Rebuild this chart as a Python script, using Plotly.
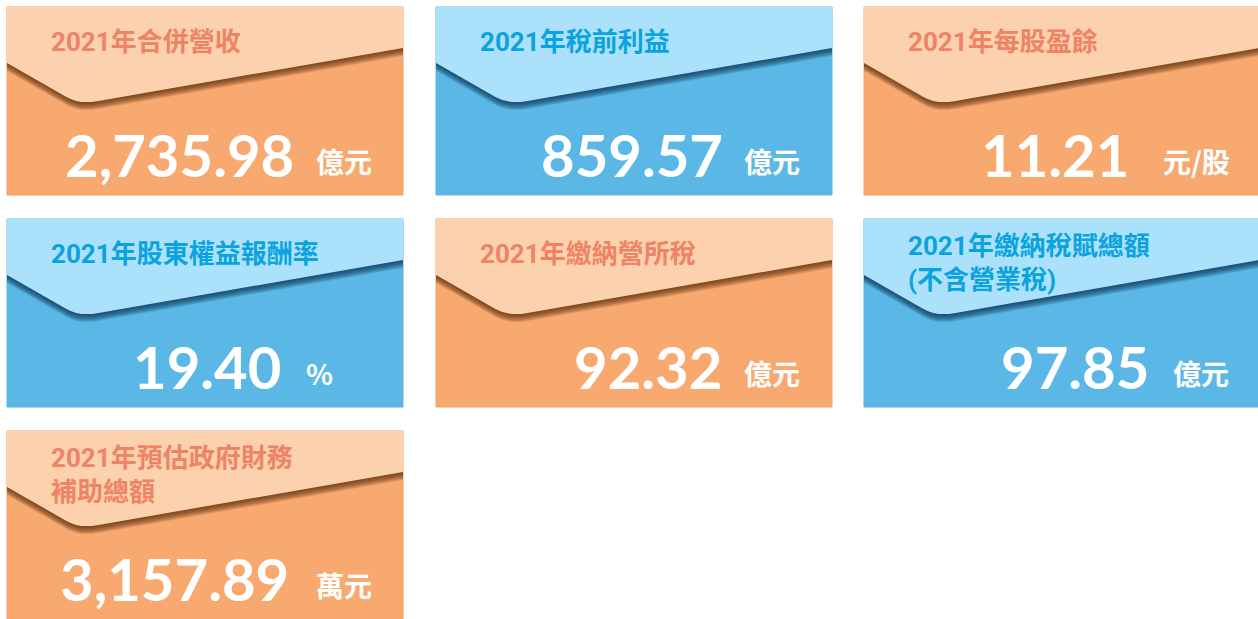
import plotly.graph_objects as go

# ---- data ----
titles = [
    "2021年合併營收",
    "2021年稅前利益",
    "2021年每股盈餘",
    "2021年股東權益報酬率",
    "2021年繳納營所稅",
    "2021年繳納稅賦總額<br>(不含營業稅)",
    "2021年預估政府財務<br>補助總額",
]
values = [2735.98, 859.57, 11.21, 19.40, 92.32, 97.85, 3157.89]
units = ["億元", "億元", "元/股", "%", "億元", "億元", "萬元"]
themes = ["orange", "blue", "orange", "blue", "orange", "blue", "orange"]

# ---- layout config (positions / styles) ----
W, H = 1258, 619
col_x = [7, 436, 864]
row_y = [7, 219, 431]
card_w, card_h = 396, 188
num_right_off = [288, 288, 266, 275, 287, 286, 283]
unit_left_off = [308, 307, 298, 298, 307, 308, 308]

palette = {
    "orange": dict(base="#F8A96F", flap="#FCD1AD", title="#EF8366",
                   shadow="rgba(90,40,10,0.15)", border="#F2A06A"),
    "blue": dict(base="#5BB8E6", flap="#ABE1FA", title="#0BA3DF",
                 shadow="rgba(10,45,80,0.15)", border="#5AB4E2"),
}


def flap_path(x0, y0, dy=0.0):
    p = lambda x, y: f"{x0 + x:.1f},{y0 + y + dy:.1f}"
    return (f"M{p(0, 0)} L{p(card_w, 0)} L{p(card_w, 41)} L{p(90.1, 94.2)} "
            f"Q{p(72.4, 97.3)} {p(59.4, 89.9)} L{p(0, 56)} Z")


fig = go.Figure()
shapes, annotations = [], []

for i, (t, v, u, th) in enumerate(zip(titles, values, units, themes)):
    c = palette[th]
    x0 = col_x[i % 3]
    y0 = row_y[i // 3]
    # card body
    shapes.append(dict(type="rect", xref="x", yref="y", x0=x0, x1=x0 + card_w,
                       y0=y0, y1=y0 + card_h, fillcolor=c["base"],
                       line=dict(color=c["border"], width=1), layer="below"))
    # flap shadow
    for k in range(1, 9):
        shapes.append(dict(type="path", xref="x", yref="y", path=flap_path(x0, y0, k),
                           fillcolor=c["shadow"], line=dict(width=0), layer="below"))
    # flap
    shapes.append(dict(type="path", xref="x", yref="y", path=flap_path(x0, y0),
                       fillcolor=c["flap"], line=dict(width=0), layer="below"))
    nlines = t.count("<br>") + 1
    annotations.append(dict(
        x=x0 + 43, y=y0 + (35 if nlines == 1 else 44), xref="x", yref="y",
        text=t, showarrow=False, xanchor="left", yanchor="middle", align="left",
        borderpad=0,
        font=dict(family="Roboto, 'Noto Sans CJK TC', sans-serif", size=26,
                  color=c["title"], weight="bold")))
    annotations.append(dict(
        x=x0 + num_right_off[i], y=y0 + 147, xref="x", yref="y",
        text=f"{v:,.2f}", showarrow=False, xanchor="right", yanchor="middle",
        borderpad=0,
        font=dict(family="Lato, 'Open Sans', sans-serif", size=58,
                  color="white", weight="bold")))
    annotations.append(dict(
        x=x0 + unit_left_off[i], y=y0 + 154, xref="x", yref="y",
        text=u, showarrow=False, xanchor="left", yanchor="middle",
        borderpad=0,
        font=dict(family="'Noto Sans CJK TC', sans-serif", size=28,
                  color="white", weight="bold")))

fig.update_layout(
    width=W, height=H, margin=dict(l=0, r=0, t=0, b=0),
    paper_bgcolor="white", plot_bgcolor="white",
    xaxis=dict(range=[0, W], visible=False, fixedrange=True),
    yaxis=dict(range=[H, 0], visible=False, fixedrange=True),
    shapes=shapes, annotations=annotations, showlegend=False,
)

fig.write_html("out.html", config={"displayModeBar": False},
               post_script="document.body.style.margin='0';document.body.style.overflow='hidden';")
